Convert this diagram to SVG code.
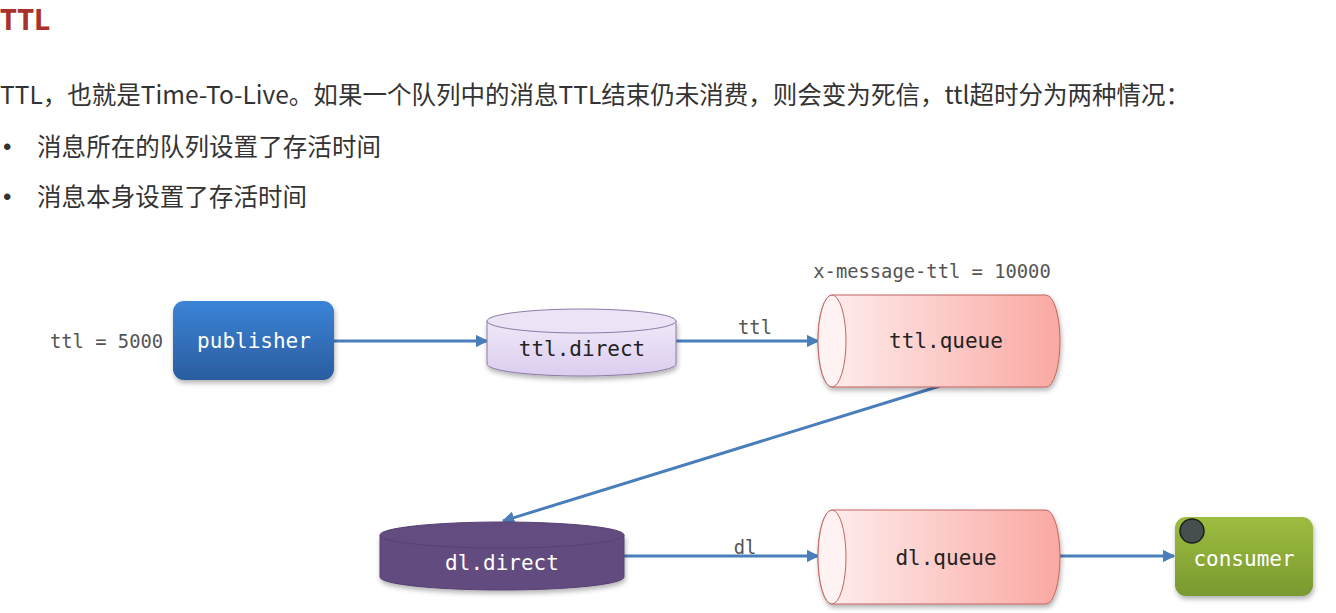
<svg xmlns="http://www.w3.org/2000/svg" width="1336" height="613" viewBox="0 0 1336 613">
<defs>
<style>
.cn{font-family:"Noto Sans CJK SC","Noto Sans",sans-serif;fill:#333;font-size:24.5px}
.dot{font-family:"Liberation Sans",sans-serif;fill:#333;font-size:24px}
.mono{font-family:"DejaVu Sans Mono","Liberation Mono",monospace}
.lbl{font-size:21px;text-anchor:middle}
.ann{font-size:18.8px;fill:#555}
.conn{stroke:#4a7ebb;stroke-width:3;fill:none;marker-end:url(#ah)}
</style>
<marker id="ah" viewBox="0 0 10 10" refX="9" refY="5" markerWidth="4.2" markerHeight="4.2" orient="auto" markerUnits="strokeWidth">
<path d="M0,0 L10,5 L0,10 Z" fill="#4a7ebb"/>
</marker>
<linearGradient id="gPub" x1="0" y1="0" x2="0" y2="1">
<stop offset="0" stop-color="#3b84d8"/><stop offset="1" stop-color="#2a5c9e"/>
</linearGradient>
<linearGradient id="gCon" x1="0" y1="0" x2="0" y2="1">
<stop offset="0" stop-color="#9dbd40"/><stop offset="1" stop-color="#7a9930"/>
</linearGradient>
<linearGradient id="gQ" x1="0" y1="0" x2="1" y2="0">
<stop offset="0" stop-color="#fef0f0"/><stop offset="1" stop-color="#fba8a2"/>
</linearGradient>
<linearGradient id="gEx" x1="0" y1="0" x2="0" y2="1">
<stop offset="0" stop-color="#efe8f8"/><stop offset="1" stop-color="#dccdef"/>
</linearGradient>
<filter id="sh" x="-10%" y="-10%" width="130%" height="140%">
<feDropShadow dx="1" dy="3" stdDeviation="2.5" flood-color="#000" flood-opacity="0.3"/>
</filter>
</defs>
<rect width="1336" height="613" fill="#fff"/>

<g id="header">
<text x="0" y="30" font-family="Noto Sans, Liberation Sans, sans-serif" font-weight="bold" font-size="29" fill="#a8322b">TTL</text>
<text class="cn" x="0" y="104" textLength="1190" lengthAdjust="spacing">TTL，也就是Time-To-Live。如果一个队列中的消息TTL结束仍未消费，则会变为死信，ttl超时分为两种情况：</text>
<text class="dot" x="3" y="155">•</text>
<text class="cn" x="37" y="156" textLength="344" lengthAdjust="spacing">消息所在的队列设置了存活时间</text>
<text class="dot" x="3" y="205">•</text>
<text class="cn" x="37" y="206" textLength="270" lengthAdjust="spacing">消息本身设置了存活时间</text>
</g>

<g id="connectors">
<line class="conn" x1="334" y1="341" x2="487" y2="341"/>
<line class="conn" x1="676" y1="341" x2="818" y2="341"/>
<line class="conn" x1="940" y1="386" x2="503" y2="521"/>
<line class="conn" x1="624" y1="556" x2="818" y2="556"/>
<line class="conn" x1="1060" y1="556" x2="1174" y2="556"/>
<text class="mono ann" x="755" y="334" text-anchor="middle">ttl</text>
<text class="mono ann" x="745" y="554" text-anchor="middle">dl</text>
</g>

<g id="publisher">
<text class="mono ann" x="50" y="348">ttl = 5000</text>
<rect x="173" y="301" width="161" height="79" rx="11" fill="url(#gPub)" filter="url(#sh)"/>
<text class="mono lbl" x="254" y="348" fill="#fff">publisher</text>
</g>

<g id="ttl-direct">
<path d="M487,321 L487,364 A94.5,12 0 0 0 676,364 L676,321" fill="url(#gEx)" stroke="#8c7aa6" stroke-width="1" filter="url(#sh)"/>
<ellipse cx="581.5" cy="321" rx="94.5" ry="12" fill="#ece4f6" stroke="#8c7aa6" stroke-width="1"/>
<text class="mono lbl" x="582" y="356" fill="#222">ttl.direct</text>
</g>

<g id="ttl-queue">
<text class="mono ann" x="932" y="278" text-anchor="middle" fill="#333">x-message-ttl = 10000</text>
<path d="M832,295 L1046,295 A14,46 0 0 1 1046,387 L832,387 A14,46 0 0 1 832,295 Z" fill="url(#gQ)" stroke="#c26560" stroke-width="1" filter="url(#sh)"/>
<ellipse cx="832" cy="341" rx="14" ry="46" fill="#fff2f2" stroke="#c26560" stroke-width="1"/>
<text class="mono lbl" x="946" y="348" fill="#222">ttl.queue</text>
</g>

<g id="dl-direct">
<path d="M380,535 L380,577 A122,13 0 0 0 624,577 L624,535" fill="#624b7f" stroke="#554070" stroke-width="1" filter="url(#sh)"/>
<ellipse cx="502" cy="535" rx="122" ry="13" fill="#634c80" stroke="#574272" stroke-width="1"/>
<text class="mono lbl" x="502" y="570" fill="#fff">dl.direct</text>
</g>

<g id="dl-queue">
<path d="M832,510 L1046,510 A14,47 0 0 1 1046,604 L832,604 A14,47 0 0 1 832,510 Z" fill="url(#gQ)" stroke="#c26560" stroke-width="1" filter="url(#sh)"/>
<ellipse cx="832" cy="557" rx="14" ry="47" fill="#fff2f2" stroke="#c26560" stroke-width="1"/>
<text class="mono lbl" x="946" y="565" fill="#222">dl.queue</text>
</g>

<g id="consumer">
<rect x="1175" y="517" width="138" height="79" rx="11" fill="url(#gCon)" filter="url(#sh)"/>
<circle cx="1192" cy="531" r="12" fill="#464e4e" stroke="#1c1f1f" stroke-width="1.5"/>
<text class="mono lbl" x="1244" y="566" fill="#fff">consumer</text>
</g>
</svg>
